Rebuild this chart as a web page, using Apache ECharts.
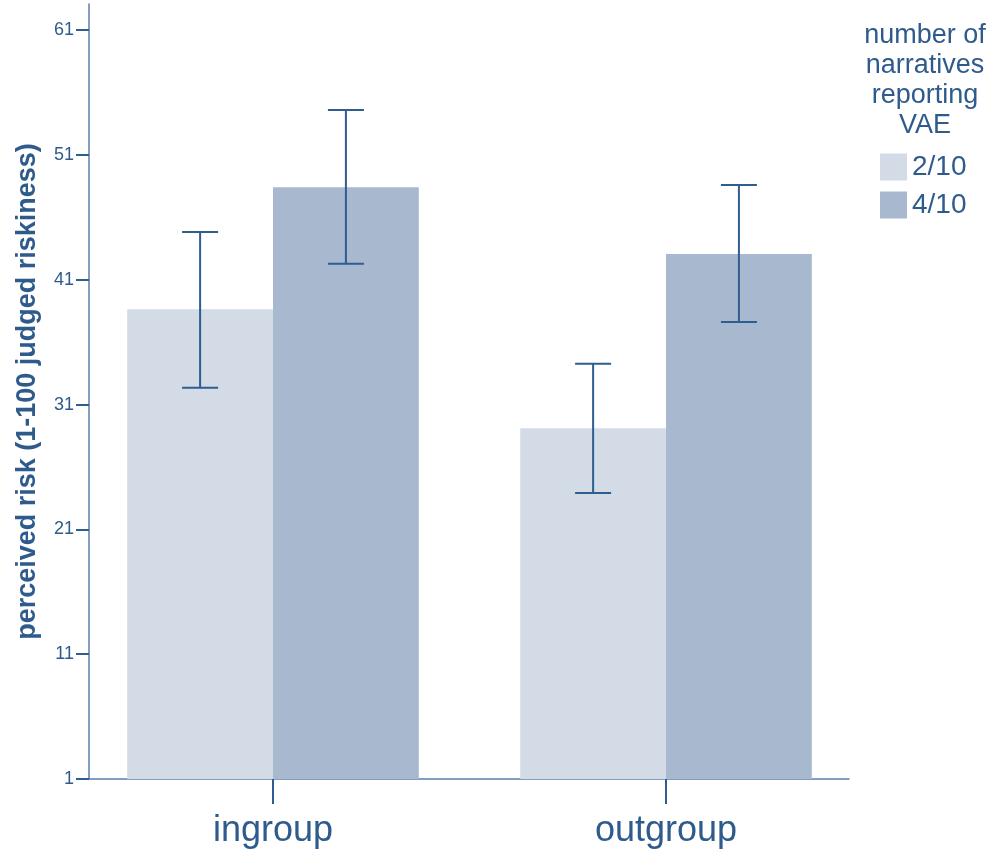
<!DOCTYPE html>
<html>
<head>
<meta charset="utf-8">
<script src="https://cdn.jsdelivr.net/npm/echarts@6/dist/echarts.min.js"></script>
<style>
html,body{margin:0;padding:0;background:#fff;}
#chart{width:991px;height:852px;}
</style>
</head>
<body>
<div id="chart"></div>
<script>
// ---- data ----
const categories = ['ingroup', 'outgroup'];
const seriesNames = ['2/10', '4/10'];
const means2 = [38.64, 29.1];
const means4 = [48.41, 43.07];
const low2 = [32.35, 23.92];
const high2 = [44.83, 34.28];
const low4 = [42.29, 37.62];
const high4 = [54.6, 48.6];
const yTicks = [1, 11, 21, 31, 41, 51, 61];
const legendTitle = 'number of\nnarratives\nreporting\nVAE';
const yTitle = 'perceived risk (1-100 judged riskiness)';

// ---- style ----
const lightColor = '#d3dbe7';
const darkColor = '#a8b9cf';
const inkColor = '#2e5d90';
const axisColor = '#5a7ea8';
const textColor = '#2f5b8c';
const BAR_HALF = 0.371;   // bar width in category units
const CAP_HALF = 18;      // px

const chart = echarts.init(document.getElementById('chart'), null, {renderer: 'canvas'});

function barData(vals) {
  return vals.map((v, i) => [i + 1, v]);
}
function errData(lows, highs) {
  return lows.map((l, i) => [i + 1, l, highs[i]]);
}
function makeBarRender(side) {
  return function (params, api) {
    const c = api.value(0);
    const v = api.value(1);
    const x0 = side < 0 ? c - BAR_HALF : c;
    const x1 = side < 0 ? c : c + BAR_HALF;
    const p0 = api.coord([x0, v]);
    const p1 = api.coord([x1, 1]);
    return {
      type: 'rect',
      shape: {x: p0[0], y: p0[1], width: p1[0] - p0[0], height: p1[1] - p0[1]},
      style: {fill: api.visual('color')}
    };
  };
}
function makeErrRender(side) {
  return function (params, api) {
    const c = api.value(0) + side * BAR_HALF / 2;
    const lo = api.coord([c, api.value(1)]);
    const hi = api.coord([c, api.value(2)]);
    const st = {stroke: inkColor, lineWidth: 2};
    return {
      type: 'group',
      children: [
        {type: 'line', shape: {x1: lo[0], y1: lo[1], x2: hi[0], y2: hi[1]}, style: st},
        {type: 'line', shape: {x1: hi[0] - CAP_HALF, y1: hi[1], x2: hi[0] + CAP_HALF, y2: hi[1]}, style: st},
        {type: 'line', shape: {x1: lo[0] - CAP_HALF, y1: lo[1], x2: lo[0] + CAP_HALF, y2: lo[1]}, style: st}
      ]
    };
  };
}

const option = {
  backgroundColor: '#ffffff',
  animation: false,
  textStyle: {fontFamily: 'Liberation Sans, Arial, sans-serif'},
  grid: {left: 89, right: 142, top: 4, bottom: 73, containLabel: false},
  legend: {
    data: seriesNames,
    orient: 'vertical',
    left: 880,
    top: 153,
    padding: 0,
    itemWidth: 27,
    itemHeight: 27,
    itemGap: 10,
    icon: 'rect',
    textStyle: {fontSize: 28, color: textColor},
    selectedMode: false
  },
  graphic: [{
    type: 'text',
    x: 925,
    y: 21,
    style: {
      text: legendTitle,
      fontSize: 27,
      lineHeight: 30,
      fill: textColor,
      align: 'center',
      verticalAlign: 'top',
      fontFamily: 'Liberation Sans, Arial, sans-serif'
    }
  }],
  xAxis: {
    type: 'value',
    min: 0.5318,
    max: 2.4656,
    splitLine: {show: false},
    axisLine: {show: true, onZero: false, lineStyle: {color: axisColor, width: 1.5}},
    axisTick: {show: true, customValues: [1, 2], length: 25, lineStyle: {color: inkColor, width: 2}},
    axisLabel: {
      show: true,
      customValues: [1, 2],
      formatter: v => categories[Math.round(v) - 1],
      fontSize: 36,
      color: textColor,
      margin: 34
    }
  },
  yAxis: {
    type: 'value',
    min: 1,
    max: 63.1,
    name: yTitle,
    nameLocation: 'middle',
    nameGap: 48,
    nameRotate: 90,
    nameTextStyle: {fontSize: 27, fontWeight: 'bold', color: textColor},
    splitLine: {show: false},
    axisLine: {show: true, lineStyle: {color: axisColor, width: 1.5}},
    axisTick: {show: true, customValues: yTicks, length: 13, lineStyle: {color: inkColor, width: 2}},
    axisLabel: {show: true, customValues: yTicks, fontSize: 18, color: textColor, margin: 15}
  },
  series: [
    {name: seriesNames[0], type: 'custom', itemStyle: {color: lightColor}, renderItem: makeBarRender(-1), data: barData(means2), z: 2},
    {name: seriesNames[1], type: 'custom', itemStyle: {color: darkColor}, renderItem: makeBarRender(1), data: barData(means4), z: 2},
    {name: 'err2', type: 'custom', renderItem: makeErrRender(-1), data: errData(low2, high2), z: 3},
    {name: 'err4', type: 'custom', renderItem: makeErrRender(1), data: errData(low4, high4), z: 3}
  ]
};
chart.setOption(option);
</script>
</body>
</html>
